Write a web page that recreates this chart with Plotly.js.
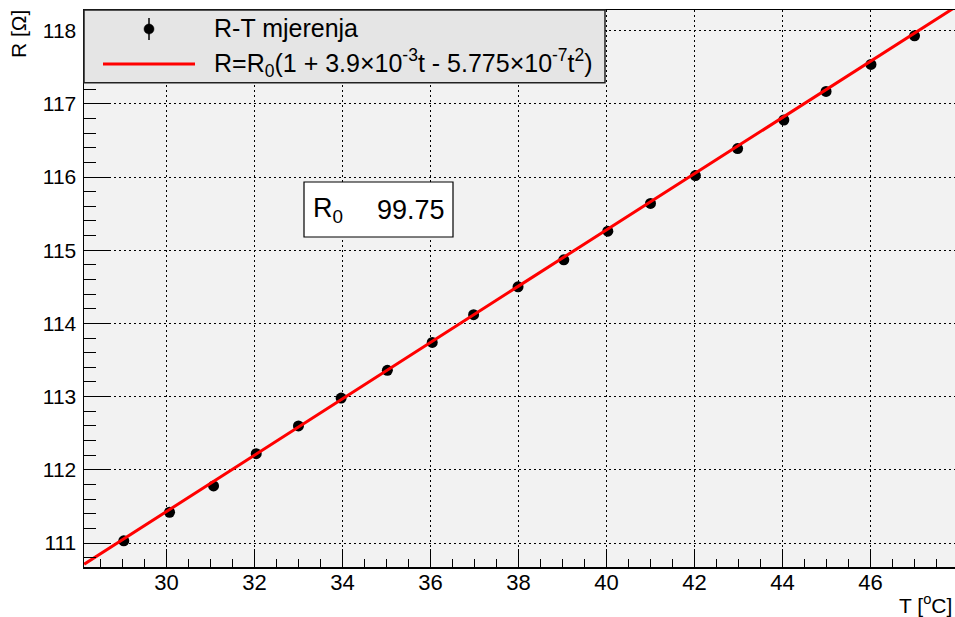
<!DOCTYPE html>
<html>
<head>
<meta charset="utf-8">
<script src="https://cdn.plot.ly/plotly-3.0.1.min.js"></script>
<style>html,body{margin:0;padding:0;background:#fff;}#chart{width:955px;height:617px;}</style>
</head>
<body>
<div id="chart"></div>
<script>
// Measured points (temperature in degC, resistance in Ohm)
const temps = [29.03, 30.07, 31.07, 32.04, 33.0, 33.97, 35.02, 36.04, 36.98, 37.99, 39.03, 40.03, 41.0, 42.02, 42.98, 44.03, 44.99, 46.01, 47.0];
const resist = [111.03, 111.42, 111.78, 112.22, 112.60, 112.98, 113.36, 113.74, 114.12, 114.50, 114.87, 115.26, 115.64, 116.02, 116.39, 116.78, 117.17, 117.54, 117.93];
// Fit curve
const fitT = [28.13, 33, 38, 43, 47.92];
const fitR = [110.71, 112.59, 114.51, 116.43, 118.32];
const xTicks = [30, 32, 34, 36, 38, 40, 42, 44, 46];
const yTicks = [111, 112, 113, 114, 115, 116, 117, 118];
const legendLabels = ["R-T mjerenja", "R=R<sub>0</sub>(1 + 3.9×10<sup>-3</sup>t - 5.775×10<sup>-7</sup>t<sup>2</sup>)"];
const statName = "R<sub>0</sub>";
const statValue = "99.75";

const FONT = '"Liberation Sans", Arial, Helvetica, sans-serif';
const L = 84, T = 10, W = 871, H = 557;
const px = x => (x - L) / W;
const py = y => (T + H - y) / H;

const traces = [
  {x: temps, y: resist, type: 'scatter', mode: 'markers',
   marker: {symbol: 'circle', size: 11, color: '#000'}, showlegend: false, hoverinfo: 'x+y'},
  {x: fitT, y: fitR, type: 'scatter', mode: 'lines',
   line: {color: '#ff0000', width: 3}, showlegend: false, hoverinfo: 'skip'}
];

const layout = {
  width: 955, height: 617,
  margin: {l: L, r: 955 - L - W, t: T, b: 617 - T - H, pad: 0},
  paper_bgcolor: '#ffffff', plot_bgcolor: '#f2f2f2',
  font: {family: FONT, color: '#000'},
  showlegend: false,
  xaxis: {
    range: [28.126, 47.92], tickvals: xTicks, ticktext: xTicks.map(String),
    ticks: 'inside', ticklen: 18, tickwidth: 1, tickcolor: '#000',
    minor: {dtick: 0.5, tick0: 0, ticks: 'inside', ticklen: 8, tickwidth: 1, tickcolor: '#000', showgrid: false},
    showgrid: true, gridcolor: '#000', gridwidth: 1, griddash: '2px,3px',
    showline: true, linecolor: '#000', linewidth: 1.5, mirror: true,
    zeroline: false, tickfont: {family: FONT, size: 22, color: '#000'},
    ticklabelstandoff: -5, fixedrange: true
  },
  yaxis: {
    range: [110.672, 118.283], tickvals: yTicks, ticktext: yTicks.map(String),
    ticks: 'inside', ticklen: 25, tickwidth: 1, tickcolor: '#000',
    minor: {dtick: 0.2, tick0: 0, ticks: 'inside', ticklen: 12, tickwidth: 1, tickcolor: '#000', showgrid: false},
    showgrid: true, gridcolor: '#000', gridwidth: 1, griddash: '2px,3px',
    showline: true, linecolor: '#000', linewidth: 1.5, mirror: false,
    zeroline: false, tickfont: {family: FONT, size: 21, color: '#000'},
    ticklabelstandoff: 2, fixedrange: true
  },
  shapes: [
    // legend box
    {type: 'rect', xref: 'paper', yref: 'paper', x0: px(84), x1: px(605), y0: py(82.7), y1: py(10),
     fillcolor: '#e5e5e5', line: {color: '#222', width: 1.5}, layer: 'above'},
    // legend marker with error bar
    {type: 'line', xref: 'paper', yref: 'paper', xsizemode: 'pixel', ysizemode: 'pixel',
     xanchor: px(149), yanchor: py(29), x0: 0, x1: 0, y0: -11, y1: 11, line: {color: '#000', width: 1.5}, layer: 'above'},
    {type: 'circle', xref: 'paper', yref: 'paper', xsizemode: 'pixel', ysizemode: 'pixel',
     xanchor: px(149), yanchor: py(29), x0: -5, x1: 5, y0: -5, y1: 5, fillcolor: '#000', line: {color: '#000', width: 0.5}, layer: 'above'},
    // legend line
    {type: 'line', xref: 'paper', yref: 'paper', x0: px(103), x1: px(195), y0: py(64), y1: py(64),
     line: {color: '#ff0000', width: 3}, layer: 'above'},
    // stats box
    {type: 'rect', xref: 'paper', yref: 'paper', x0: px(304), x1: px(453), y0: py(237), y1: py(182),
     fillcolor: '#ffffff', line: {color: '#000', width: 1.2}, layer: 'above'}
  ],
  annotations: [
    {xref: 'paper', yref: 'paper', x: px(212), y: py(28), xanchor: 'left', yanchor: 'middle',
     text: legendLabels[0], showarrow: false, font: {family: FONT, size: 25, color: '#000'}},
    {xref: 'paper', yref: 'paper', x: px(212), y: py(63), xanchor: 'left', yanchor: 'middle',
     text: legendLabels[1], showarrow: false, font: {family: FONT, size: 25, color: '#000'}},
    {xref: 'paper', yref: 'paper', x: px(311), y: py(210), xanchor: 'left', yanchor: 'middle',
     text: statName, showarrow: false, font: {family: FONT, size: 27, color: '#000'}},
    {xref: 'paper', yref: 'paper', x: px(447), y: py(210), xanchor: 'right', yanchor: 'middle',
     text: statValue, showarrow: false, font: {family: FONT, size: 27, color: '#000'}},
    {xref: 'paper', yref: 'paper', x: px(18), y: py(8), xanchor: 'center', yanchor: 'top', textangle: -90,
     text: 'R [Ω]', showarrow: false, font: {family: FONT, size: 21, color: '#000'}},
    {xref: 'paper', yref: 'paper', x: px(954), y: py(604), xanchor: 'right', yanchor: 'middle',
     text: 'T [<sup>o</sup>C]', showarrow: false, font: {family: FONT, size: 21, color: '#000'}}
  ]
};

Plotly.newPlot('chart', traces, layout, {displayModeBar: false, staticPlot: true});
</script>
</body>
</html>
